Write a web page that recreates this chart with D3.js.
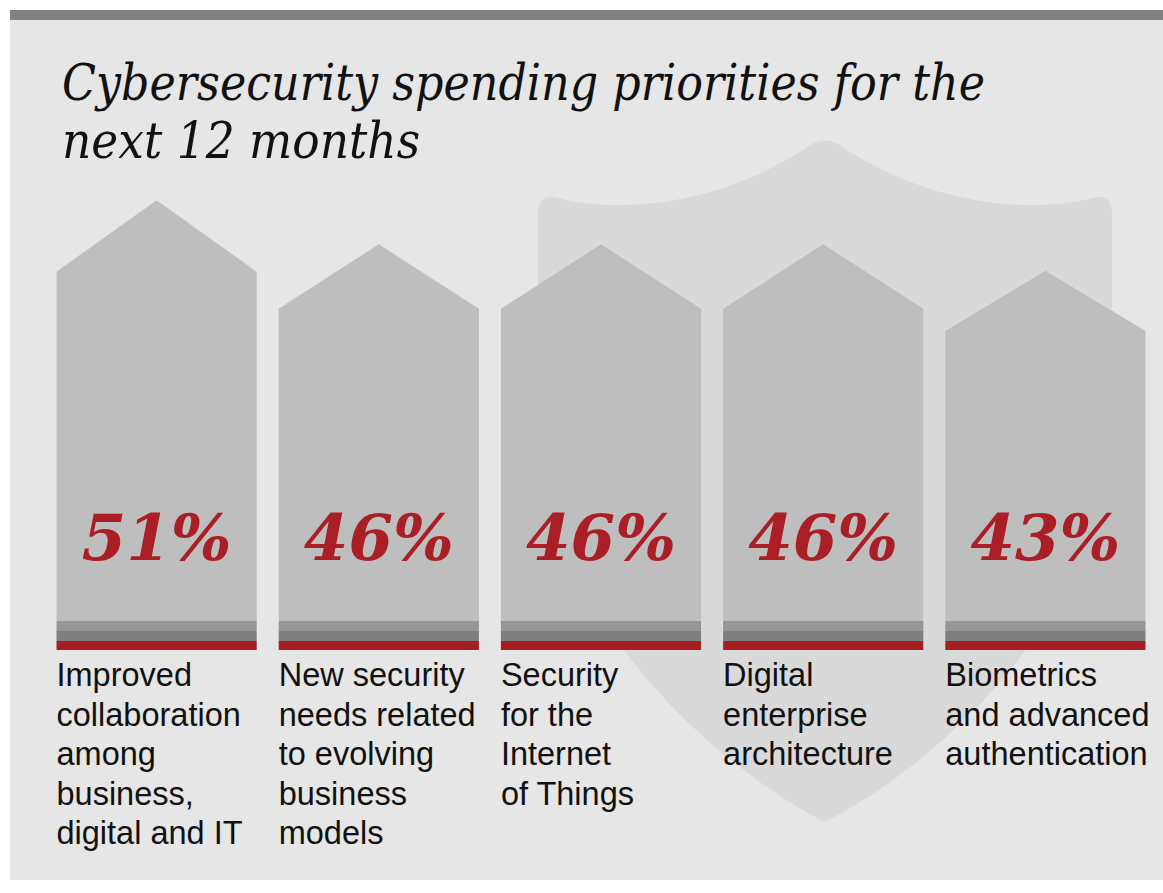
<!DOCTYPE html>
<html>
<head>
<meta charset="utf-8">
<script src="https://cdn.jsdelivr.net/npm/d3@7"></script>
<style>
  body { margin: 0; background: #fff; }
  svg { display: block; }
</style>
</head>
<body>
<div id="chart"></div>
<script>
// values
var categories = ["collab", "newsec", "iot", "digital", "biometrics"];
var labelLines = [
    ["Improved", "collaboration", "among", "business,", "digital and IT"],
    ["New security", "needs related", "to evolving", "business", "models"],
    ["Security", "for the", "Internet", "of Things"],
    ["Digital", "enterprise", "architecture"],
    ["Biometrics", "and advanced", "authentication"]
];
var values = [51, 46, 46, 46, 43];
var titleLines = ["Cybersecurity spending priorities for the", "next 12 months"];

var width = 1163,
    height = 893;

var svg = d3.select("#chart")
    .append("svg")
    .attr("width", width)
    .attr("height", height);

// panel + top rule
svg.append("rect").attr("x", 10).attr("y", 20).attr("width", width - 10).attr("height", 860).attr("fill", "#e6e6e6");
svg.append("rect").attr("x", 10).attr("y", 10).attr("width", width - 10).attr("height", 10).attr("fill", "#808184");

// shield in the background
svg.append("path")
    .attr("d", "M538,215 Q538,192 558,198 C605,211 705,212 803,150 Q825,131 847,150 " +
        "C945,212 1045,211 1092,198 Q1112,192 1112,215 L1112,420 " +
        "C1112,600 947,760 825,822 C703,760 538,600 538,420 Z")
    .attr("fill", "#d9d9d9");

// title
svg.selectAll(".title")
    .data(titleLines)
    .enter().append("text")
    .attr("class", "title")
    .attr("x", 62)
    .attr("y", function (d, i) { return 100 + i * 58; })
    .attr("font-family", "'DejaVu Serif', serif")
    .attr("font-style", "italic")
    .attr("font-size", 51)
    .attr("fill", "#111")
    .attr("textLength", function (d, i) { return i == 0 ? 923 : 358; })
    .attr("lengthAdjust", "spacingAndGlyphs")
    .text(function (d) { return d; });

var x = d3.scaleBand()
    .domain(categories)
    .range([56.5, 1145.5])
    .paddingInner(0.099)
    .paddingOuter(0);

// bars rise from the bottom of the red stripe
var baseY = 650;
var y = d3.scaleLinear().domain([0, 100]).range([baseY, baseY - 882]);
var shoulderRatio = 0.841;
var bodyBottom = 621;

var g = svg.selectAll(".bar")
    .data(values)
    .enter().append("g")
    .attr("class", "bar");

g.append("path")
    .attr("fill", "#bebebe")
    .attr("d", function (d, i) {
        var x0 = x(categories[i]), x1 = x0 + x.bandwidth();
        var apex = y(d);
        var shoulder = baseY - shoulderRatio * (baseY - apex);
        var p = d3.path();
        p.moveTo(x0, bodyBottom);
        p.lineTo(x0, shoulder);
        p.lineTo((x0 + x1) / 2, apex);
        p.lineTo(x1, shoulder);
        p.lineTo(x1, bodyBottom);
        p.closePath();
        return p.toString();
    });

var stripes = [["#969696", 621, 10], ["#7f7f7f", 631, 10], ["#a31f22", 641, 9]];
stripes.forEach(function (s) {
    g.append("rect")
        .attr("x", function (d, i) { return x(categories[i]); })
        .attr("y", s[1])
        .attr("width", x.bandwidth())
        .attr("height", s[2])
        .attr("fill", s[0]);
});

g.append("text")
    .attr("x", function (d, i) { return x(categories[i]) + x.bandwidth() / 2; })
    .attr("y", 560)
    .attr("text-anchor", "middle")
    .attr("font-family", "'DejaVu Serif', serif")
    .attr("font-weight", "bold")
    .attr("font-style", "italic")
    .attr("font-size", 64)
    .attr("fill", "#a91f25")
    .text(function (d) { return d + "%"; });

// category labels
g.each(function (d, i) {
    d3.select(this).selectAll(".lbl")
        .data(labelLines[i])
        .enter().append("text")
        .attr("class", "lbl")
        .attr("x", x(categories[i]))
        .attr("y", function (t, j) { return 686 + j * 39.5; })
        .attr("font-family", "'Liberation Sans', Arial, sans-serif")
        .attr("font-size", 32.5)
        .attr("fill", "#111")
        .text(function (t) { return t; });
});
</script>
</body>
</html>
